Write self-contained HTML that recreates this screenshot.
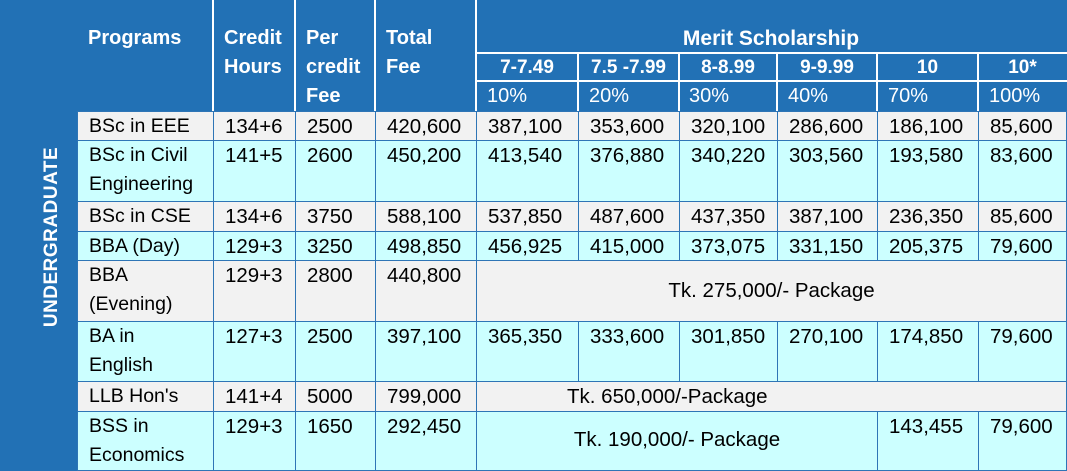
<!DOCTYPE html>
<html><head><meta charset="utf-8"><style>
*{margin:0;padding:0;box-sizing:border-box}
body{width:1067px;height:471px;background:#2271b5;position:relative;overflow:hidden;font-family:"Liberation Sans",sans-serif}
.c{position:absolute;border:1px solid #2e75b6;font-size:20.5px;color:#000;padding-left:11px;line-height:29px;white-space:nowrap}
.n{font-size:19.5px}
.g{background:#f2f2f2}.y{background:#ccffff}
.h{position:absolute;color:#fff;font-weight:bold;font-size:20px;line-height:29px;white-space:nowrap}
.p{position:absolute;color:#fff;font-size:20px;line-height:27px}
.vl{position:absolute;width:2px;background:#fff}
.hl{position:absolute;height:2px;background:#fff}
.ug{position:absolute;left:52px;top:237px;transform:translate(-50%,-50%) rotate(-90deg);color:#fff;font-weight:bold;font-size:19px;letter-spacing:0.5px;white-space:nowrap}
</style></head><body>
<div class="vl" style="left:212px;top:0;height:111px"></div>
<div class="vl" style="left:294px;top:0;height:111px"></div>
<div class="vl" style="left:374px;top:0;height:111px"></div>
<div class="vl" style="left:475px;top:0;height:111px"></div>
<div class="vl" style="left:577px;top:53px;height:58px"></div>
<div class="vl" style="left:678px;top:53px;height:58px"></div>
<div class="vl" style="left:776px;top:53px;height:58px"></div>
<div class="vl" style="left:876px;top:53px;height:58px"></div>
<div class="vl" style="left:977px;top:53px;height:58px"></div>
<div class="hl" style="left:476px;top:52px;width:591px"></div>
<div class="hl" style="left:476px;top:80px;width:591px"></div>
<div class="h" style="left:88px;top:24px">Programs</div>
<div class="h" style="left:224px;top:24px">Credit<br>Hours</div>
<div class="h" style="left:306px;top:24px">Per<br>credit<br>Fee</div>
<div class="h" style="left:386px;top:24px">Total<br>Fee</div>
<div class="h" style="left:476px;width:590px;text-align:center;top:24px;font-size:21px">Merit Scholarship</div>
<div class="h" style="left:476px;width:102px;text-align:center;top:53px;font-size:19px">7-7.49</div>
<div class="h" style="left:578px;width:101px;text-align:center;top:53px;font-size:19px">7.5 -7.99</div>
<div class="h" style="left:679px;width:98px;text-align:center;top:53px;font-size:19px">8-8.99</div>
<div class="h" style="left:777px;width:100px;text-align:center;top:53px;font-size:19px">9-9.99</div>
<div class="h" style="left:877px;width:101px;text-align:center;top:53px;font-size:19px">10</div>
<div class="h" style="left:978px;width:89px;text-align:center;top:53px;font-size:19px">10*</div>
<div class="p" style="left:487px;top:83px">10%</div>
<div class="p" style="left:589px;top:83px">20%</div>
<div class="p" style="left:689px;top:83px">30%</div>
<div class="p" style="left:788px;top:83px">40%</div>
<div class="p" style="left:888px;top:83px">70%</div>
<div class="p" style="left:989px;top:83px">100%</div>
<div class="ug">UNDERGRADUATE</div>

<div class="c g n" style="left:77px;top:111px;width:137px;height:30px">BSc in EEE</div>
<div class="c g" style="left:213px;top:111px;width:83px;height:30px">134+6</div>
<div class="c g" style="left:295px;top:111px;width:81px;height:30px">2500</div>
<div class="c g" style="left:375px;top:111px;width:102px;height:30px">420,600</div>
<div class="c g" style="left:476px;top:111px;width:103px;height:30px">387,100</div>
<div class="c g" style="left:578px;top:111px;width:102px;height:30px">353,600</div>
<div class="c g" style="left:679px;top:111px;width:99px;height:30px">320,100</div>
<div class="c g" style="left:777px;top:111px;width:101px;height:30px">286,600</div>
<div class="c g" style="left:877px;top:111px;width:102px;height:30px">186,100</div>
<div class="c g" style="left:978px;top:111px;width:89px;height:30px">85,600</div>

<div class="c y n" style="left:77px;top:140px;width:137px;height:62px">BSc in Civil<br>Engineering</div>
<div class="c y" style="left:213px;top:140px;width:83px;height:62px">141+5</div>
<div class="c y" style="left:295px;top:140px;width:81px;height:62px">2600</div>
<div class="c y" style="left:375px;top:140px;width:102px;height:62px">450,200</div>
<div class="c y" style="left:476px;top:140px;width:103px;height:62px">413,540</div>
<div class="c y" style="left:578px;top:140px;width:102px;height:62px">376,880</div>
<div class="c y" style="left:679px;top:140px;width:99px;height:62px">340,220</div>
<div class="c y" style="left:777px;top:140px;width:101px;height:62px">303,560</div>
<div class="c y" style="left:877px;top:140px;width:102px;height:62px">193,580</div>
<div class="c y" style="left:978px;top:140px;width:89px;height:62px">83,600</div>

<div class="c g n" style="left:77px;top:201px;width:137px;height:31px">BSc in CSE</div>
<div class="c g" style="left:213px;top:201px;width:83px;height:31px">134+6</div>
<div class="c g" style="left:295px;top:201px;width:81px;height:31px">3750</div>
<div class="c g" style="left:375px;top:201px;width:102px;height:31px">588,100</div>
<div class="c g" style="left:476px;top:201px;width:103px;height:31px">537,850</div>
<div class="c g" style="left:578px;top:201px;width:102px;height:31px">487,600</div>
<div class="c g" style="left:679px;top:201px;width:99px;height:31px">437,350</div>
<div class="c g" style="left:777px;top:201px;width:101px;height:31px">387,100</div>
<div class="c g" style="left:877px;top:201px;width:102px;height:31px">236,350</div>
<div class="c g" style="left:978px;top:201px;width:89px;height:31px">85,600</div>

<div class="c y n" style="left:77px;top:231px;width:137px;height:30px">BBA (Day)</div>
<div class="c y" style="left:213px;top:231px;width:83px;height:30px">129+3</div>
<div class="c y" style="left:295px;top:231px;width:81px;height:30px">3250</div>
<div class="c y" style="left:375px;top:231px;width:102px;height:30px">498,850</div>
<div class="c y" style="left:476px;top:231px;width:103px;height:30px">456,925</div>
<div class="c y" style="left:578px;top:231px;width:102px;height:30px">415,000</div>
<div class="c y" style="left:679px;top:231px;width:99px;height:30px">373,075</div>
<div class="c y" style="left:777px;top:231px;width:101px;height:30px">331,150</div>
<div class="c y" style="left:877px;top:231px;width:102px;height:30px">205,375</div>
<div class="c y" style="left:978px;top:231px;width:89px;height:30px">79,600</div>

<div class="c g n" style="left:77px;top:260px;width:137px;height:62px">BBA<br>(Evening)</div>
<div class="c g" style="left:213px;top:260px;width:83px;height:62px">129+3</div>
<div class="c g" style="left:295px;top:260px;width:81px;height:62px">2800</div>
<div class="c g" style="left:375px;top:260px;width:102px;height:62px">440,800</div>
<div class="c g" style="left:476px;top:260px;width:591px;height:62px;padding:0;text-align:center;line-height:60px">Tk. 275,000/- Package</div>

<div class="c y n" style="left:77px;top:321px;width:137px;height:61px">BA in<br>English</div>
<div class="c y" style="left:213px;top:321px;width:83px;height:61px">127+3</div>
<div class="c y" style="left:295px;top:321px;width:81px;height:61px">2500</div>
<div class="c y" style="left:375px;top:321px;width:102px;height:61px">397,100</div>
<div class="c y" style="left:476px;top:321px;width:103px;height:61px">365,350</div>
<div class="c y" style="left:578px;top:321px;width:102px;height:61px">333,600</div>
<div class="c y" style="left:679px;top:321px;width:99px;height:61px">301,850</div>
<div class="c y" style="left:777px;top:321px;width:101px;height:61px">270,100</div>
<div class="c y" style="left:877px;top:321px;width:102px;height:61px">174,850</div>
<div class="c y" style="left:978px;top:321px;width:89px;height:61px">79,600</div>

<div class="c g n" style="left:77px;top:381px;width:137px;height:31px">LLB Hon's</div>
<div class="c g" style="left:213px;top:381px;width:83px;height:31px">141+4</div>
<div class="c g" style="left:295px;top:381px;width:81px;height:31px">5000</div>
<div class="c g" style="left:375px;top:381px;width:102px;height:31px">799,000</div>
<div class="c g" style="left:476px;top:381px;width:591px;height:31px;padding-left:90px">Tk. 650,000/-Package</div>

<div class="c y n" style="left:77px;top:411px;width:137px;height:60px">BSS in<br>Economics</div>
<div class="c y" style="left:213px;top:411px;width:83px;height:60px">129+3</div>
<div class="c y" style="left:295px;top:411px;width:81px;height:60px">1650</div>
<div class="c y" style="left:375px;top:411px;width:102px;height:60px">292,450</div>
<div class="c y" style="left:476px;top:411px;width:402px;height:60px;padding:0;text-align:center;line-height:56px">Tk. 190,000/- Package</div>
<div class="c y" style="left:877px;top:411px;width:102px;height:60px">143,455</div>
<div class="c y" style="left:978px;top:411px;width:89px;height:60px">79,600</div>
</body></html>
